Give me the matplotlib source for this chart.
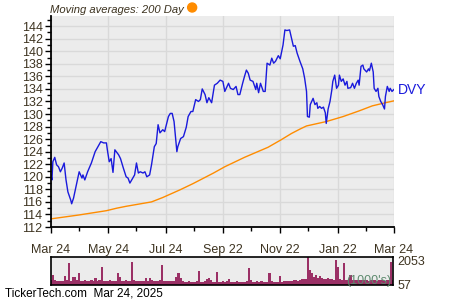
import numpy as np
import matplotlib
matplotlib.use("Agg")
import matplotlib.pyplot as plt
from matplotlib.ticker import MultipleLocator
from matplotlib.patches import Ellipse

plt.rcParams['font.family'] = ['Liberation Sans', 'DejaVu Sans']

# DVY closes, (days after Mar 24, value)
price_days = [0, 1, 2, 4, 6, 8, 10, 12, 14, 16, 18, 21, 22, 24, 27, 30, 33, 34, 36, 39,
              43, 47, 50, 53, 56, 59, 60, 62, 64, 66, 68, 72, 74, 77, 80, 82, 84, 87, 89, 91,
              93, 95, 98, 100, 102, 105, 107, 110, 112, 114, 116, 119, 121, 125, 127, 129, 131, 134, 135, 138,
              141, 144, 146, 149, 151, 154, 157, 159, 161, 164, 166, 168, 171, 174, 177, 180, 183, 185, 189, 191,
              194, 197, 199, 201, 204, 206, 208, 210, 212, 215, 218, 219, 221, 223, 226, 228, 230, 233, 235, 237,
              239, 242, 244, 247, 249, 251, 254, 256, 258, 260, 262, 265, 267, 268, 270, 272, 273, 275, 276, 279,
              281, 283, 284, 286, 288, 290, 292, 293, 295, 297, 299, 300, 302, 304, 306, 307, 309, 311, 313, 315,
              316, 319, 321, 323, 325, 327, 328, 330, 332, 333, 336, 338, 339, 341, 343, 344, 346, 348, 349, 351,
              353, 355, 356, 358, 360, 361, 363, 365]
price = [120.3, 119.5, 122.4, 123.1, 121.9, 121.6, 120.8, 121.4, 122.2, 119.5, 117.6, 116.3, 115.7, 116.6, 118.7, 120.8, 119.8, 120.3, 119.5, 120.8,
         122.2, 124.0, 124.8, 125.6, 125.4, 125.4, 124.3, 122.4, 122.9, 120.7, 124.3, 123.5, 122.9, 121.4, 120.0, 119.8, 119.0, 119.8, 120.3, 122.2,
         120.6, 120.8, 120.6, 120.8, 120.0, 120.3, 121.9, 124.8, 125.3, 128.3, 127.0, 127.5, 127.2, 129.6, 130.1, 130.1, 128.8, 124.0, 124.8, 126.1,
         126.4, 127.9, 129.6, 130.4, 130.4, 132.3, 132.0, 132.3, 134.0, 133.1, 131.8, 132.6, 131.8, 134.6, 134.9, 135.4, 135.2, 133.6, 134.9, 134.1,
         133.9, 134.4, 133.1, 133.1, 134.9, 136.0, 137.0, 136.5, 135.4, 135.2, 133.9, 134.9, 133.4, 134.9, 133.6, 133.6, 138.1, 137.8, 138.9, 138.1,
         138.4, 139.3, 138.8, 141.0, 143.4, 143.3, 143.4, 142.1, 140.8, 140.9, 139.7, 138.4, 137.6, 137.2, 135.7, 133.6, 129.6, 129.5, 131.5, 132.5,
         131.5, 131.8, 130.9, 131.2, 130.9, 131.1, 130.2, 128.5, 130.8, 132.0, 133.9, 135.2, 136.2, 134.1, 134.6, 136.2, 135.2, 135.6, 134.6, 135.2,
         134.1, 134.2, 134.9, 134.1, 134.9, 135.4, 134.6, 137.6, 137.8, 137.2, 136.7, 137.2, 136.9, 138.1, 136.7, 134.1, 133.6, 134.1, 132.8, 132.0,
         131.5, 130.8, 132.8, 134.4, 133.6, 134.1, 133.6, 133.9]

# 200 day moving average
ma_days = [0, 29, 59, 70, 80, 107, 119, 137, 151, 173, 185, 206, 231, 245, 256, 265, 272, 293, 311, 328, 342, 356, 365]
ma200 = [113.3, 113.9, 114.6, 115.0, 115.3, 116.0, 116.7, 117.9, 118.9, 120.6, 121.6, 123.1, 124.7, 125.9, 126.9, 127.6, 128.1,
         128.8, 129.6, 130.5, 131.3, 131.8, 132.1]

# volume (1000's), roughly every other trading day
volume = [420, 840, 450, 380, 350, 400, 380, 784, 420, 1876, 380, 700, 700, 420, 1036, 400, 380, 420, 400, 380,
          420, 400, 616, 380, 420, 1540, 400, 380, 350, 420, 400, 380, 360, 1064, 700, 400, 380, 420, 360, 400,
          1960, 450, 380, 400, 360, 380, 400, 600, 380, 600, 420, 380, 400, 380, 420, 1680, 380, 400, 360, 350,
          330, 350, 700, 1036, 600, 340, 320, 300, 330, 310, 320, 300, 330, 1204, 320, 300, 330, 500, 616, 450,
          320, 300, 1120, 310, 300, 330, 320, 340, 560, 320, 300, 310, 330, 300, 320, 310, 300, 330, 1456, 420,
          320, 300, 330, 310, 340, 320, 300, 310, 1036, 330, 320, 310, 300, 784, 320, 330, 340, 380, 400, 360,
          420, 450, 400, 480, 500, 520, 550, 2350, 1260, 1000, 700, 900, 650, 800, 600, 550, 520, 580, 500, 550,
          480, 2100, 1540, 500, 480, 1876, 460, 450, 896, 480, 440, 460, 420, 450, 430, 420, 440, 400, 420, 410,
          430, 400, 420, 450, 420, 400, 430, 420, 1960, 450]

month_ticks = [0, 61, 122, 183, 244, 305, 365]
month_labels = ['Mar 24', 'May 24', 'Jul 24', 'Sep 22', 'Nov 22', 'Jan 22', 'Mar 24']
minor_ticks = [30, 91, 152, 213, 274, 335]

text_col = '#3d3320'
bg = '#ececec'
grid_col = '#d9d9d9'

fig = plt.figure(figsize=(4.5, 3), dpi=100)

ax = fig.add_axes([0.1133, 0.2433, 0.762, 0.703])
ax.set_facecolor(bg)
ax.plot(ma_days, ma200, color='#ff8c00', lw=1.0)
ax.plot(price_days, price, color='#1a1adc', lw=1.0)
ax.set_xlim(0, 365)
ax.set_ylim(112, 145.6)
ax.set_xticks(month_ticks)
ax.set_xticklabels(month_labels)
ax.set_xticks(minor_ticks, minor=True)
ax.yaxis.set_major_locator(MultipleLocator(2))
ax.yaxis.set_minor_locator(MultipleLocator(1))
ax.grid(True, which='major', color=grid_col, lw=1.0)
ax.set_axisbelow(True)
for s in ['top', 'right']:
    ax.spines[s].set_visible(False)
for s in ['left', 'bottom']:
    ax.spines[s].set_linewidth(1.3)
ax.tick_params(axis='both', which='major', length=4, width=1, labelsize=9, colors='black', labelcolor=text_col)
ax.tick_params(axis='both', which='minor', length=3, width=1)
ax.tick_params(axis='x', pad=8)
ax.tick_params(axis='y', pad=2)
ax.annotate('DVY', xy=(price_days[-1], price[-1]), xytext=(3, 0), textcoords='offset points',
            color='#1a1adc', fontsize=10, va='center', ha='left', annotation_clip=False)

fig.text(0.111, 0.968, 'Moving averages: 200 Day', fontsize=8.1, style='italic', color=text_col, va='center')
fig.patches.append(Ellipse((0.427, 0.975), 9 / 450, 9 / 300, transform=fig.transFigure, color='#ff8c00'))

vax = fig.add_axes([0.1133, 0.049, 0.76, 0.095])
vax.set_facecolor(bg)
vdays = np.linspace(0, 365, len(volume))
vax.bar(vdays, volume, width=365 / len(volume) * 1.05, color='#9b3066', linewidth=0)
vax.set_xlim(0, 365)
vax.set_ylim(0, 2400)
vax.set_xticks([])
vax.yaxis.tick_right()
vax.set_yticks([2053, 57])
vax.set_yticklabels(['2053', '57'])
vax.tick_params(axis='y', length=0, labelsize=9, labelcolor=text_col, pad=3)
for s in vax.spines.values():
    s.set_linewidth(1.2)
vax.text(0.995, 0.15, "(1000's)", transform=vax.transAxes, ha='right', va='center',
         fontsize=9, color='#5d8a6e')

fig.text(0.011, 0.02, 'TickerTech.com  Mar 24, 2025', fontsize=8.5, color='black', va='center')

fig.savefig('out.png', dpi=100)
